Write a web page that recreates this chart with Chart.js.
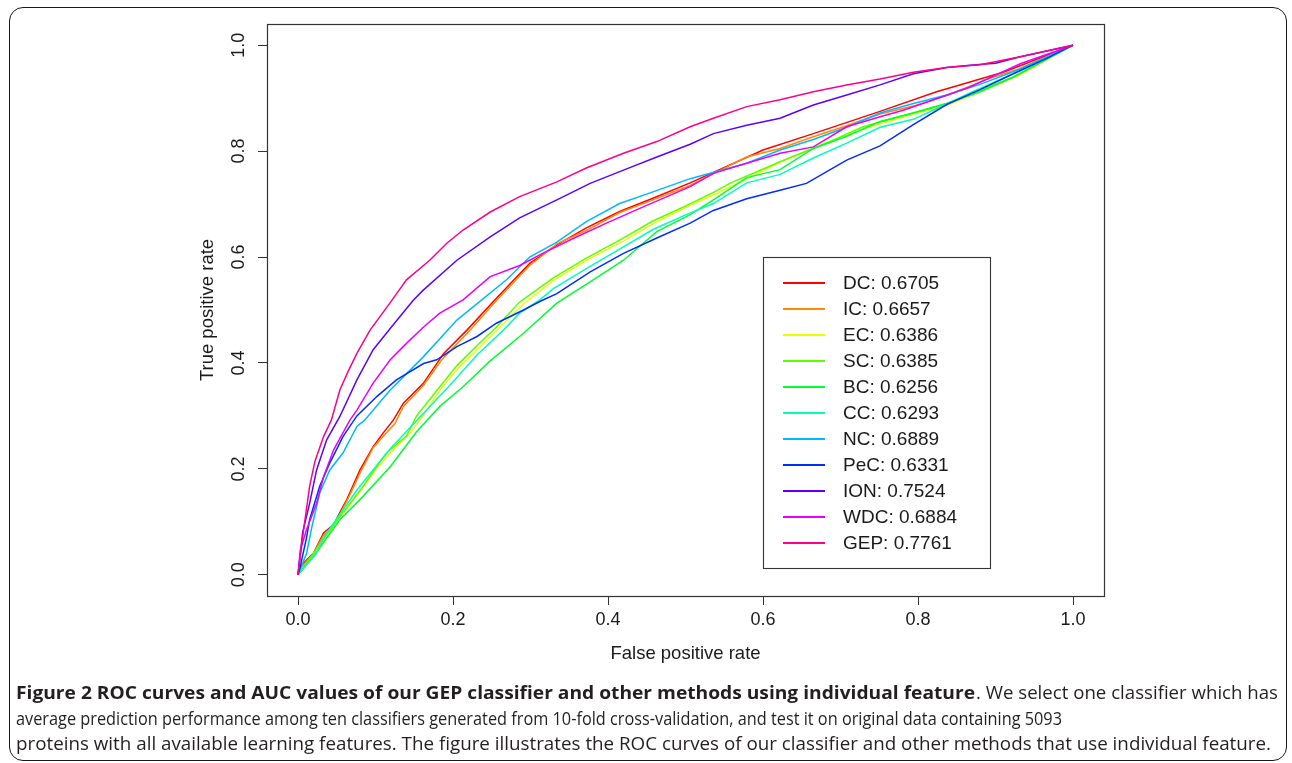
<!DOCTYPE html>
<html><head><meta charset="utf-8">
<script src="https://cdn.jsdelivr.net/npm/chart.js@4.4.1/dist/chart.umd.min.js"></script>
<style>
html,body{margin:0;padding:0;background:#fff;width:1292px;height:763px;overflow:hidden;}
#frame{position:absolute;left:9px;top:7px;width:1278px;height:754px;border:1.6px solid #1a1a1a;border-radius:14px;box-sizing:border-box;}
#wrap{position:absolute;left:0;top:0;width:1292px;height:670px;}
#cap{position:absolute;left:0;top:0;}
#cap text{font-family:"Open Sans","Noto Sans",sans-serif;font-size:18px;fill:#231f20;}
#cap .b{font-weight:700;}
</style></head><body>
<div id="frame"></div>
<div id="wrap"><canvas id="c" width="1292" height="670"></canvas></div>
<svg id="cap" width="1292" height="763" xmlns="http://www.w3.org/2000/svg">
  <text class="b" x="16" y="699" textLength="959" lengthAdjust="spacingAndGlyphs">Figure 2 ROC curves and AUC values of our GEP classifier and other methods using individual feature</text>
  <text x="976" y="699" textLength="302" lengthAdjust="spacingAndGlyphs">. We select one classifier which has</text>
  <text x="16" y="725" textLength="1046" lengthAdjust="spacingAndGlyphs">average prediction performance among ten classifiers generated from 10-fold cross-validation, and test it on original data containing 5093</text>
  <text x="16" y="750" textLength="1255" lengthAdjust="spacingAndGlyphs">proteins with all available learning features. The figure illustrates the ROC curves of our classifier and other methods that use individual feature.</text>
</svg>
<script>
// ---- data ----
const seriesNames = ["DC","IC","EC","SC","BC","CC","NC","PeC","ION","WDC","GEP"];
const aucValues = ["0.6705","0.6657","0.6386","0.6385","0.6256","0.6293","0.6889","0.6331","0.7524","0.6884","0.7761"];
const xTicks = [0,0.2,0.4,0.6,0.8,1.0];
const yTicks = [0,0.2,0.4,0.6,0.8,1.0];

const DC_fpr = [0,0.003,0.02,0.033,0.046,0.058,0.063,0.08,0.097,0.11,0.123,0.136,0.162,0.188,0.218,0.256,0.299,0.334,0.372,0.415,0.458,0.506,0.6,0.665,0.751,0.824,0.91,1];
const DC_tpr = [0,0.016,0.041,0.079,0.095,0.129,0.142,0.198,0.242,0.268,0.292,0.324,0.362,0.418,0.462,0.522,0.588,0.623,0.655,0.686,0.711,0.74,0.802,0.833,0.875,0.912,0.949,1];

const IC_fpr = [0,0.004,0.02,0.033,0.046,0.058,0.065,0.08,0.097,0.112,0.125,0.136,0.162,0.185,0.222,0.256,0.299,0.334,0.372,0.415,0.458,0.506,0.579,0.622,0.665,0.708,0.751,0.794,0.837,0.888,0.93,1];
const IC_tpr = [0,0.014,0.04,0.075,0.09,0.125,0.145,0.192,0.24,0.265,0.285,0.318,0.358,0.405,0.462,0.518,0.584,0.625,0.65,0.684,0.708,0.735,0.789,0.805,0.827,0.848,0.87,0.885,0.905,0.935,0.955,1];

const EC_fpr = [0,0.012,0.025,0.054,0.084,0.1,0.12,0.145,0.16,0.185,0.21,0.235,0.26,0.29,0.33,0.375,0.42,0.46,0.5,0.54,0.58,0.62,0.68,0.73,0.79,0.84,0.88,0.93,1];
const EC_tpr = [0,0.022,0.043,0.108,0.165,0.198,0.232,0.268,0.298,0.352,0.395,0.43,0.466,0.51,0.556,0.596,0.63,0.664,0.694,0.72,0.748,0.778,0.815,0.842,0.868,0.888,0.912,0.943,1];

const SC_fpr = [0,0.01,0.02,0.054,0.084,0.097,0.114,0.14,0.153,0.183,0.205,0.231,0.256,0.286,0.329,0.372,0.415,0.458,0.501,0.536,0.557,0.622,0.686,0.729,0.794,0.837,0.88,0.923,1];
const SC_tpr = [0,0.02,0.041,0.11,0.167,0.195,0.23,0.262,0.3,0.355,0.395,0.433,0.468,0.515,0.56,0.598,0.632,0.668,0.697,0.722,0.739,0.78,0.818,0.846,0.872,0.89,0.915,0.94,1];

const BC_fpr = [0,0.02,0.054,0.08,0.119,0.153,0.183,0.213,0.248,0.291,0.334,0.377,0.42,0.463,0.506,0.536,0.579,0.622,0.665,0.708,0.751,0.794,0.837,0.88,0.923,1];
const BC_tpr = [0,0.035,0.104,0.142,0.204,0.27,0.318,0.355,0.404,0.456,0.513,0.553,0.594,0.648,0.68,0.708,0.75,0.765,0.805,0.828,0.856,0.872,0.89,0.912,0.94,1];

const CC_fpr = [0,0.024,0.033,0.076,0.119,0.162,0.196,0.231,0.265,0.286,0.312,0.329,0.372,0.415,0.458,0.501,0.536,0.579,0.622,0.665,0.708,0.751,0.794,0.824,0.867,0.932,1];
const CC_tpr = [0,0.041,0.07,0.16,0.238,0.305,0.358,0.415,0.462,0.494,0.519,0.54,0.578,0.615,0.652,0.68,0.701,0.74,0.756,0.787,0.815,0.845,0.86,0.88,0.91,0.952,1];

const NC_fpr = [0,0.011,0.018,0.028,0.041,0.058,0.076,0.086,0.119,0.162,0.205,0.226,0.269,0.299,0.334,0.372,0.415,0.458,0.506,0.579,0.622,0.665,0.708,0.751,0.794,0.837,0.88,0.932,1];
const NC_tpr = [0,0.04,0.091,0.154,0.198,0.23,0.28,0.292,0.349,0.412,0.481,0.506,0.557,0.6,0.628,0.667,0.701,0.723,0.748,0.777,0.802,0.822,0.845,0.872,0.89,0.906,0.926,0.955,1];

const PeC_fpr = [0,0.003,0.011,0.015,0.028,0.041,0.058,0.076,0.102,0.127,0.162,0.179,0.205,0.231,0.256,0.291,0.312,0.334,0.377,0.42,0.463,0.506,0.536,0.579,0.622,0.656,0.708,0.751,0.794,0.837,0.88,0.923,0.966,1];
const PeC_tpr = [0,0.016,0.07,0.104,0.167,0.211,0.261,0.3,0.337,0.368,0.399,0.406,0.431,0.45,0.475,0.5,0.516,0.531,0.572,0.607,0.636,0.664,0.688,0.71,0.726,0.739,0.783,0.81,0.85,0.888,0.916,0.946,0.975,1];

const ION_fpr = [0,0.006,0.015,0.024,0.037,0.054,0.076,0.097,0.119,0.149,0.162,0.205,0.248,0.286,0.334,0.377,0.42,0.463,0.506,0.536,0.579,0.622,0.665,0.708,0.751,0.794,0.837,0.867,0.9,0.932,1];
const ION_tpr = [0,0.08,0.135,0.198,0.255,0.299,0.368,0.425,0.465,0.519,0.538,0.594,0.638,0.674,0.708,0.739,0.764,0.789,0.813,0.833,0.849,0.862,0.887,0.906,0.925,0.946,0.958,0.962,0.966,0.978,1];

const WDC_fpr = [0,0.003,0.011,0.024,0.033,0.046,0.067,0.076,0.097,0.119,0.14,0.162,0.183,0.213,0.248,0.286,0.317,0.355,0.398,0.441,0.506,0.536,0.579,0.622,0.665,0.708,0.751,0.781,0.824,0.867,0.932,1];
const WDC_tpr = [0,0.047,0.085,0.135,0.185,0.236,0.292,0.311,0.362,0.406,0.437,0.468,0.494,0.519,0.563,0.584,0.608,0.635,0.664,0.692,0.733,0.758,0.777,0.796,0.808,0.846,0.865,0.877,0.899,0.921,0.965,1];

const GEP_fpr = [0,0.005,0.009,0.015,0.022,0.033,0.043,0.054,0.065,0.076,0.093,0.119,0.14,0.17,0.192,0.213,0.248,0.286,0.334,0.372,0.42,0.463,0.506,0.536,0.579,0.622,0.665,0.708,0.751,0.794,0.837,0.88,0.932,1];
const GEP_tpr = [0,0.06,0.104,0.167,0.215,0.261,0.292,0.349,0.385,0.418,0.462,0.514,0.557,0.594,0.626,0.651,0.685,0.714,0.742,0.768,0.796,0.818,0.846,0.862,0.884,0.897,0.912,0.925,0.936,0.949,0.958,0.963,0.978,1];

// ---- styling ----
const lineColors = ["#FF0000","#FF8B00","#E8FF00","#5DFF00","#00FF2E","#00FFB9","#00B9FF","#002EFF","#5D00FF","#E800FF","#FF008B"];
const FONT = '"Liberation Sans", Arial, Helvetica, sans-serif';

const fprs = [DC_fpr,IC_fpr,EC_fpr,SC_fpr,BC_fpr,CC_fpr,NC_fpr,PeC_fpr,ION_fpr,WDC_fpr,GEP_fpr];
const tprs = [DC_tpr,IC_tpr,EC_tpr,SC_tpr,BC_tpr,CC_tpr,NC_tpr,PeC_tpr,ION_tpr,WDC_tpr,GEP_tpr];

const datasets = seriesNames.map((n,i)=>({
  label: n + ": " + aucValues[i],
  data: fprs[i].map((x,j)=>({x:x, y:tprs[i][j]})),
  borderColor: lineColors[i],
  backgroundColor: lineColors[i],
  borderWidth: 1.5,
  pointRadius: 0,
  showLine: true,
  tension: 0,
  fill: false,
  order: seriesNames.length - i
}));

const boxPlugin = {
  id: 'boxAndLegend',
  afterDraw(chart){
    const ctx = chart.ctx, ca = chart.chartArea;
    ctx.save();
    ctx.strokeStyle = '#333';
    ctx.lineWidth = 1.2;
    ctx.strokeRect(ca.left+0.5, ca.top+0.5, ca.right-ca.left, ca.bottom-ca.top);
    const lx = ca.left + 496, ly = ca.top + 233, lw = 227, lh = 311;
    ctx.fillStyle = '#fff';
    ctx.fillRect(lx, ly, lw, lh);
    ctx.strokeStyle = '#333';
    ctx.lineWidth = 1.1;
    ctx.strokeRect(lx+0.5, ly+0.5, lw, lh);
    ctx.font = '19px ' + FONT;
    ctx.textBaseline = 'middle';
    ctx.textAlign = 'left';
    chart.data.datasets.forEach((d,i)=>{
      const y = ly + 26 + i*26;
      ctx.strokeStyle = d.borderColor;
      ctx.lineWidth = 1.8;
      ctx.beginPath(); ctx.moveTo(lx+20, y); ctx.lineTo(lx+62, y); ctx.stroke();
      ctx.fillStyle = '#1a1a1a';
      ctx.fillText(d.label, lx+80, y+1);
    });
    ctx.restore();
  }
};

new Chart(document.getElementById('c'), {
  type: 'scatter',
  data: { datasets },
  options: {
    responsive: false,
    animation: false,
    events: [],
    layout: { padding: { left: 197, right: 188, top: 24, bottom: 5 } },
    plugins: { legend: { display: false }, tooltip: { enabled: false } },
    scales: {
      x: {
        type: 'linear', min: -0.04, max: 1.04,
        afterBuildTicks: s => { s.ticks = xTicks.map(v=>({value:v})); },
        afterFit: s => { s.height = 69; },
        grid: { drawOnChartArea: false, drawTicks: true, tickLength: 9, color: '#333', lineWidth: 1 },
        border: { display: false },
        ticks: { color: '#1a1a1a', font: { family: FONT, size: 18 }, padding: 4, maxRotation: 0, autoSkip: false,
                 callback: v => Number(v).toFixed(1) },
        title: { display: true, text: 'False positive rate', color: '#1a1a1a', font: { family: FONT, size: 18.5 }, padding: 0 }
      },
      y: {
        type: 'linear', min: -0.04, max: 1.04,
        afterBuildTicks: s => { s.ticks = yTicks.map(v=>({value:v})); },
        afterFit: s => { s.width = 70; },
        grid: { drawOnChartArea: false, drawTicks: true, tickLength: 9, color: '#333', lineWidth: 1 },
        border: { display: false },
        ticks: { color: '#1a1a1a', font: { family: FONT, size: 18 }, padding: 6, minRotation: 90, maxRotation: 90,
                 crossAlign: 'center', autoSkip: false, callback: v => Number(v).toFixed(1) },
        title: { display: true, text: 'True positive rate', color: '#1a1a1a', font: { family: FONT, size: 18.5 }, padding: 0 }
      }
    }
  },
  plugins: [boxPlugin]
});
</script>
</body></html>
